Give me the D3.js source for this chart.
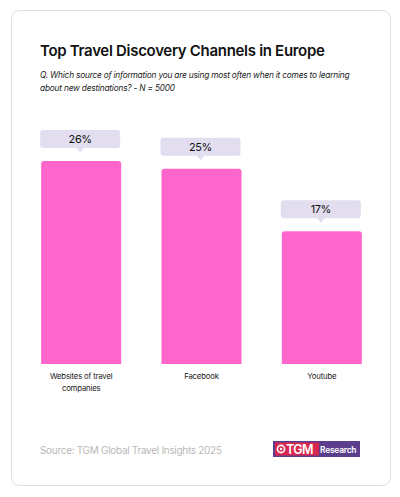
<!DOCTYPE html>
<html>
<head>
<meta charset="utf-8">
<script src="https://cdn.jsdelivr.net/npm/d3@7"></script>
<style>
  html, body { margin: 0; padding: 0; background: #fff; }
  svg { display: block; font-family: Inter, "Open Sans", sans-serif; }
</style>
</head>
<body>
<svg id="chart" width="400" height="497"></svg>
<script>
// Data
var categories = ['Websites of travel companies', 'Facebook', 'Youtube']
var values = [26, 25, 17]
var title = 'Top Travel Discovery Channels in Europe'
var subtitle = [
  'Q. Which source of information you are using most often when it comes to learning',
  'about new destinations? - N = 5000'
]
var source = 'Source: TGM Global Travel Insights 2025'

var svg = d3.select('#chart')

// card
svg.append('rect')
  .attr('x', 11.5).attr('y', 10.5)
  .attr('width', 379).attr('height', 475)
  .attr('rx', 8)
  .attr('fill', '#fff')
  .attr('stroke', '#dedede')

// title + subtitle
svg.append('text')
  .attr('x', 40).attr('y', 56)
  .attr('font-size', 15)
  .attr('font-weight', 600)
  .attr('letter-spacing', -0.3)
  .attr('fill', '#111')
  .text(title)

svg.append('g')
  .selectAll('text')
  .data(subtitle)
  .enter()
  .append('text')
  .attr('x', 40)
  .attr('y', (d, i) => 78 + i * 12.5)
  .attr('font-size', 8.3)
  .attr('font-style', 'italic')
  .attr('letter-spacing', -0.2)
  .attr('fill', '#222')
  .text(d => d)

// scales
var x = d3.scaleBand()
  .domain(categories)
  .range([21, 382])
  .paddingInner(0.335)
  .paddingOuter(0.1675)

var y = d3.scaleLinear()
  .domain([0, d3.max(values)])
  .range([364, 161])

var bars = svg.append('g')
  .selectAll('g')
  .data(categories.map((c, i) => ({ cat: c, val: values[i] })))
  .enter()
  .append('g')

// bar with rounded top corners
bars.append('path')
  .attr('fill', '#ff66cc')
  .attr('d', d => {
    var x0 = x(d.cat), w = x.bandwidth(), y0 = y(d.val), y1 = y(0), r = 3
    return 'M' + x0 + ',' + y1 +
      'V' + (y0 + r) +
      'Q' + x0 + ',' + y0 + ' ' + (x0 + r) + ',' + y0 +
      'H' + (x0 + w - r) +
      'Q' + (x0 + w) + ',' + y0 + ' ' + (x0 + w) + ',' + (y0 + r) +
      'V' + y1 + 'Z'
  })

// value callout
bars.append('rect')
  .attr('x', d => x(d.cat) - 1)
  .attr('y', d => y(d.val) - 31)
  .attr('width', x.bandwidth())
  .attr('height', 18)
  .attr('rx', 3)
  .attr('fill', '#e2def0')

bars.append('path')
  .attr('fill', '#e2def0')
  .attr('d', d => {
    var cx = x(d.cat) + x.bandwidth() / 2 - 1, b = y(d.val) - 13.5
    return 'M' + (cx - 4) + ',' + b + 'L' + cx + ',' + (b + 5) + 'L' + (cx + 4) + ',' + b + 'Z'
  })

bars.append('text')
  .attr('x', d => x(d.cat) + x.bandwidth() / 2 - 1)
  .attr('y', d => y(d.val) - 18)
  .attr('text-anchor', 'middle')
  .attr('font-size', 11)
  .attr('letter-spacing', -0.4)
  .attr('fill', '#111')
  .text(d => d.val + '%')

// category labels, wrapped
function wrapLabel(s) {
  if (s.length < 20) return [s]
  var words = s.split(' ')
  return [words.slice(0, 3).join(' '), words.slice(3).join(' ')]
}

bars.append('text')
  .attr('text-anchor', 'middle')
  .attr('font-size', 7.8)
  .attr('letter-spacing', -0.2)
  .attr('fill', '#222')
  .each(function(d) {
    var t = d3.select(this)
    wrapLabel(d.cat).forEach((line, i) => {
      t.append('tspan')
        .attr('x', x(d.cat) + x.bandwidth() / 2)
        .attr('y', 379 + i * 11.5)
        .text(line)
    })
  })

// source
svg.append('text')
  .attr('x', 40).attr('y', 454)
  .attr('font-size', 10)
  .attr('letter-spacing', -0.3)
  .attr('fill', '#b8b8b8')
  .text(source)

// logo
var logo = svg.append('g').attr('transform', 'translate(273,441)')
logo.append('rect').attr('width', 87).attr('height', 16).attr('fill', '#5b3f8c')
logo.append('rect').attr('x', 2).attr('y', 1.5).attr('width', 44).attr('height', 13).attr('fill', '#d8284f')
logo.append('circle').attr('cx', 8).attr('cy', 8).attr('r', 3.6).attr('fill', 'none').attr('stroke', '#fff').attr('stroke-width', 1.6)
logo.append('circle').attr('cx', 8).attr('cy', 8).attr('r', 1.2).attr('fill', '#fff')
logo.append('text')
  .attr('x', 13).attr('y', 13)
  .attr('font-size', 12.5).attr('font-weight', 600)
  .attr('letter-spacing', -0.6)
  .attr('fill', '#fff')
  .text('TGM')
logo.append('text')
  .attr('x', 47).attr('y', 11.5)
  .attr('font-size', 8.4).attr('font-weight', 600)
  .attr('letter-spacing', -0.2)
  .attr('fill', '#fff')
  .text('Research')
</script>
</body>
</html>
